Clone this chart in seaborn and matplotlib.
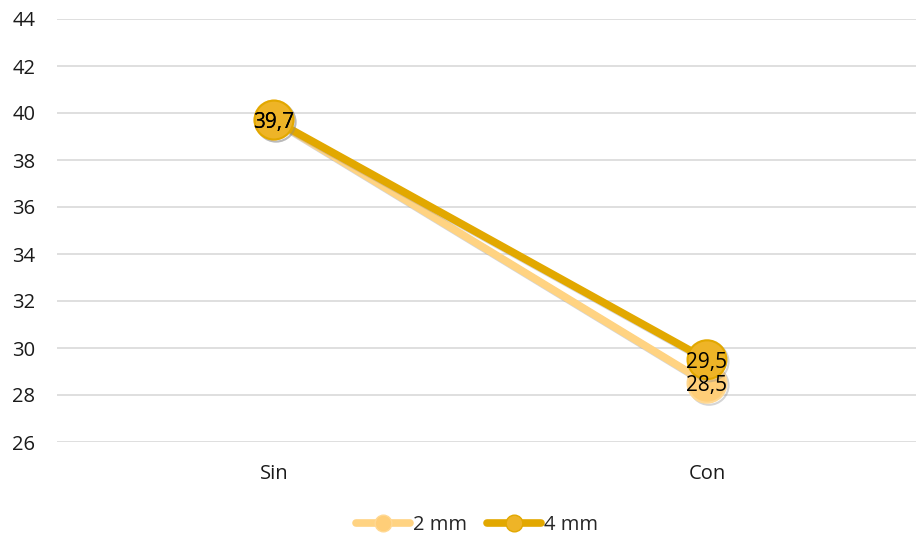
import matplotlib
matplotlib.use("Agg")
import matplotlib.pyplot as plt
import matplotlib.patheffects as pe
from matplotlib.lines import Line2D
import seaborn as sns
import pandas as pd

categories = ["Sin", "Con"]
series_names = ["2 mm", "4 mm"]
values_2mm = [39.7, 28.5]
values_4mm = [39.7, 29.5]
y_ticks = [26, 28, 30, 32, 34, 36, 38, 40, 42, 44]

line_colors = {"2 mm": "#FFD382", "4 mm": "#E2A800"}
marker_faces = {"2 mm": "#FFCE78", "4 mm": "#EEB427"}
marker_edges = {"2 mm": "#FFD892", "4 mm": "#E2A800"}

df = pd.DataFrame({
    "cat": categories * 2,
    "x": [0, 1] * 2,
    "value": values_2mm + values_4mm,
    "series": [series_names[0]] * 2 + [series_names[1]] * 2,
})

sns.set_theme(style="white")
plt.rcParams["font.family"] = ["Open Sans", "DejaVu Sans"]

fig = plt.figure(figsize=(9.16, 5.37), dpi=100)
ax = fig.add_axes([57.5 / 916, 1 - 442 / 537, 866 / 916, 423 / 537])

shadow = [pe.SimpleLineShadow(offset=(1.5, -1.5), shadow_color="#888888", alpha=0.35), pe.Normal()]

for name in series_names:
    sub = df[df["series"] == name]
    sns.lineplot(data=sub, x="x", y="value", ax=ax, color=line_colors[name],
                 linewidth=5.5, marker="o", markersize=28,
                 markerfacecolor=marker_faces[name], markeredgecolor=marker_edges[name],
                 markeredgewidth=1.5, legend=False, path_effects=shadow, zorder=3)

# data labels
for name, vals in zip(series_names, [values_2mm, values_4mm]):
    for xi, v in enumerate(vals):
        ax.text(xi, v, f"{v:.1f}".replace(".", ","), ha="center", va="center_baseline",
                fontsize=15, color="black", zorder=5)

ax.set_xlim(-0.5, 1.5)
ax.set_ylim(26, 44)
ax.set_yticks(y_ticks)
ax.set_yticklabels([str(t) for t in y_ticks], fontsize=14.5, color="#1a1a1a")
ax.set_xticks([0, 1])
ax.set_xticklabels(categories, fontsize=14.5, color="#1a1a1a")
ax.set_xlabel("")
ax.set_ylabel("")
ax.tick_params(axis="y", length=0, pad=16)
ax.tick_params(axis="x", length=0, pad=16)
ax.grid(axis="y", color="#D9D9D9", linewidth=1.2)
ax.grid(axis="x", visible=False)
for s in ax.spines.values():
    s.set_visible(False)

handles = [Line2D([0], [0], color=line_colors[n], linewidth=5.5, marker="o", markersize=12,
                  markerfacecolor=marker_faces[n], markeredgecolor=marker_edges[n])
           for n in series_names]
fig.legend(handles, series_names, loc="center", bbox_to_anchor=(477 / 916, 1 - 525 / 537),
           ncol=2, frameon=False, fontsize=14.5, handlelength=2.7, handletextpad=0.15,
           columnspacing=1.0)

fig.savefig("out.png", dpi=100)
